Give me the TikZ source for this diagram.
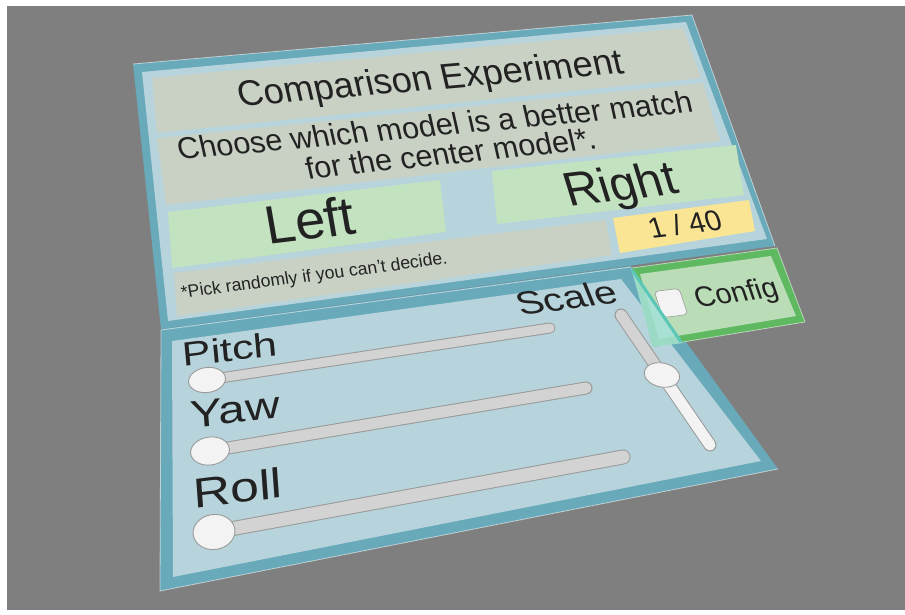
\documentclass[tikz,border=0pt]{standalone}
\usepackage{fontspec}
\setmainfont{Liberation Sans}
\usetikzlibrary{shapes.geometric}
\definecolor{Backdrop}{HTML}{7F7F7F}
\definecolor{FrameTeal}{HTML}{68A9BA}
\definecolor{PaneBlue}{HTML}{B7D4DC}
\definecolor{BarGray}{HTML}{C9D1C5}
\definecolor{PickGreen}{HTML}{C3E2C0}
\definecolor{CountGold}{HTML}{F9E593}
\definecolor{ToggleEdge}{HTML}{5EB960}
\definecolor{ToggleFill}{HTML}{BADDB8}
\definecolor{GlassCyan}{HTML}{A6E2D8}
\definecolor{GlassEdge}{HTML}{5CC7B6}
\definecolor{TrackGray}{HTML}{D3D3D3}
\definecolor{TrackEdge}{HTML}{9A9A9A}
\definecolor{KnobWhite}{HTML}{F3F3F3}
\definecolor{InkDark}{HTML}{222222}
\newcommand\uifont[1]{\fontsize{#1}{#1}\selectfont}
\tikzset{
  frame/.style={fill=FrameTeal},
  pane/.style={fill=PaneBlue},
  bar/.style={fill=BarGray},
  pick/.style={fill=PickGreen},
  counter/.style={fill=CountGold},
  rim/.style={draw=white,draw opacity=.55,line width=.8pt,line join=round},
  label/.style={text=InkDark,inner sep=0pt,anchor=base},
  trackrim/.style={draw=TrackEdge,line cap=round},
  trackbody/.style={draw=TrackGray,line cap=round},
  trackfill/.style={draw=KnobWhite,line cap=round},
  handle/.style={ellipse,fill=KnobWhite,draw=TrackEdge,line width=.9pt,inner sep=0pt},
  checkbox/.style={fill=KnobWhite,draw=TrackEdge,line width=.6pt,rounded corners=4pt,inner sep=0pt}
}

\begin{document}
\begin{tikzpicture}[x=1pt,y=-1pt]
  \useasboundingbox (0,0) rectangle (905,614);
  \fill[white] (0,0) rectangle (905,614);
  \fill[Backdrop] (7,6) rectangle (905,610);

  % upper card
  \fill[frame] (133,64) -- (692,15) -- (775,246) -- (161,329) -- cycle;
  \draw[rim] (133,64) -- (692,15) -- (775,246);
  \fill[pane] (142,72) -- (686,22) -- (767,239) -- (168,321) -- cycle;
  \fill[bar] (152,78) -- (683,28) -- (701,78) -- (157,133) -- cycle;
  \fill[bar] (157,138) -- (703,83) -- (720,141) -- (166,205) -- cycle;
  \fill[pick] (168,212) -- (440,180) -- (446,232) -- (172,268) -- cycle;
  \fill[pick] (492,171) -- (736,145) -- (744,195) -- (497,224) -- cycle;
  \fill[counter] (613,218) -- (749,200) -- (755,231) -- (620,253) -- cycle;
  \fill[bar] (174,273) -- (606,220) -- (612,255) -- (177,316) -- cycle;

  \node[label,rotate=5,xslant=-.14,font=\uifont{36}] (title) at (433,90) {Comparison Experiment};
  \node[label,rotate=5.3,xslant=-.13,font=\uifont{30.5}] (ask) at (437,136) {Choose which model is a better match};
  \node[label,rotate=6,xslant=-.12,font=\uifont{30.5}] (ask2) at (453,164) {for the center model*.};
  \node[label,rotate=7,xslant=-.05,font=\uifont{54}] (left) at (313,239) {Left};
  \node[label,rotate=7,xslant=-.18,font=\uifont{48}] (right) at (625,200) {Right};
  \node[label,rotate=6.5,xslant=-.2,font=\uifont{29}] (count) at (688,234) {1 / 40};
  \node[label,rotate=7.4,xslant=-.04,font=\uifont{17.6}] (hint) at (315,281) {*Pick randomly if you can't decide.};

  % lower card with the sliders
  \fill[frame] (161,329) -- (631,266) -- (778,469) -- (160,591) -- cycle;
  \draw[rim] (161,330) -- (631,267);
  \draw[rim] (161,330) -- (160,591) -- (778,469);
  \fill[pane] (172,341) -- (621,279) -- (761,461) -- (173,577) -- cycle;

  \node[label,rotate=8,xslant=-.25,yscale=.82,font=\uifont{40}] (scale) at (571,309) {Scale};
  \node[label,rotate=7,xslant=.03,yscale=.78,font=\uifont{43}] (pitch) at (231,361) {Pitch};
  \node[label,rotate=6.5,xslant=.04,yscale=.8,font=\uifont{48}] (yaw) at (236,423) {Yaw};
  \node[label,rotate=7,xslant=.05,yscale=.8,font=\uifont{52}] (roll) at (239,503) {Roll};

  \coordinate (pitch-min) at (207,380);
  \coordinate (pitch-max) at (550,328);
  \draw[trackrim,line width=11pt] (pitch-min) -- (pitch-max);
  \draw[trackbody,line width=9pt] (pitch-min) -- (pitch-max);
  \node[handle,minimum width=37pt,minimum height=25pt,rotate=8] (pitch-knob) at (pitch-min) {};

  \coordinate (yaw-min) at (210,451);
  \coordinate (yaw-max) at (586,388);
  \draw[trackrim,line width=13pt] (yaw-min) -- (yaw-max);
  \draw[trackbody,line width=11pt] (yaw-min) -- (yaw-max);
  \node[handle,minimum width=39pt,minimum height=28pt,rotate=8] (yaw-knob) at (yaw-min) {};

  \coordinate (roll-min) at (214,532);
  \coordinate (roll-max) at (623,457);
  \draw[trackrim,line width=15pt] (roll-min) -- (roll-max);
  \draw[trackbody,line width=13pt] (roll-min) -- (roll-max);
  \node[handle,minimum width=42pt,minimum height=35pt,rotate=8] (roll-knob) at (roll-min) {};

  \coordinate (scale-top) at (621,315);
  \coordinate (scale-mid) at (662,375);
  \coordinate (scale-bot) at (710,445);
  \draw[trackrim,line width=13pt] (scale-top) -- (scale-bot);
  \draw[trackbody,line width=11pt] (scale-top) -- (scale-mid);
  \draw[trackfill,line width=11pt] (scale-mid) -- (scale-bot);
  \node[handle,minimum width=36pt,minimum height=24pt,rotate=-12] (scale-knob) at (scale-mid) {};

  % config toggle
  \fill[ToggleEdge] (632,268) -- (777,248) -- (805,322) -- (653,347) -- cycle;
  \fill[ToggleFill] (640,274) -- (771,256) -- (796,316) -- (659,339) -- cycle;
  \node[checkbox,rotate=7,xslant=-.2,minimum width=25pt,minimum height=27pt] (tick) at (671,303) {};
  \node[label,rotate=7,xslant=-.21,font=\uifont{28.7}] (config) at (739,302) {Config};
  \fill[GlassCyan,fill opacity=.85] (631,268) -- (653,347) -- (683,343) -- cycle;
  \draw[GlassEdge,line width=3pt] (632,270) -- (681,342);
  \draw[rim] (632,268) -- (777,248) -- (805,322) -- (683,342);
\end{tikzpicture}
\end{document}
